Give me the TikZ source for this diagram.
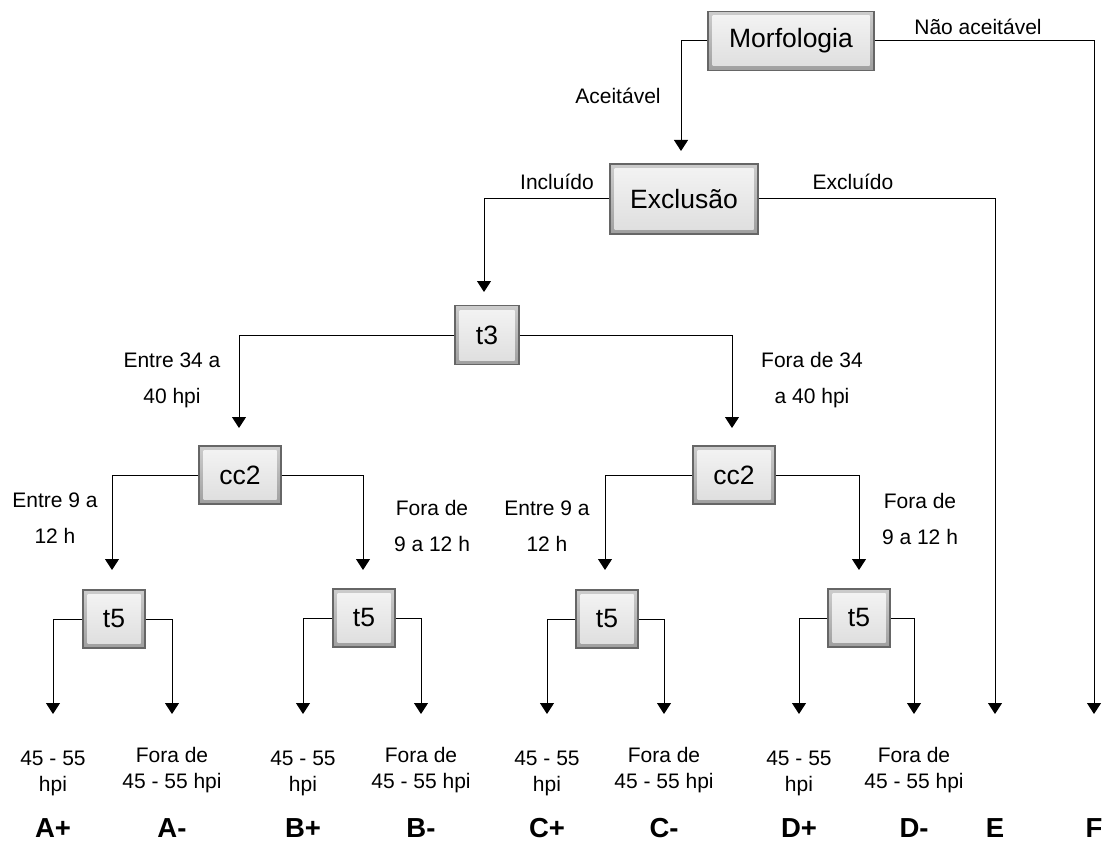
\documentclass[tikz,border=0pt]{standalone}
\usepackage{fontspec}
\setmainfont{Liberation Sans}
\usetikzlibrary{arrows.meta}
\begin{document}
\begin{tikzpicture}[x=1pt,y=-1pt,
gbox/.style={draw=black!60,line width=1.2pt,inner sep=0pt,
  font=\fontsize{26.5}{30}\selectfont,
  path picture={
    \shade[top color=gray!40,bottom color=gray!75]
      (path picture bounding box.south west) rectangle (path picture bounding box.north east);
    \shade[top color=gray!10,bottom color=gray!25]
      ([shift={(4.5pt,4.5pt)}]path picture bounding box.south west) rectangle
      ([shift={(-4.5pt,-4.5pt)}]path picture bounding box.north east);}},
lbl/.style={font=\fontsize{21}{36}\selectfont,align=center,inner sep=0pt},
leaf/.style={font=\fontsize{21}{26}\selectfont,align=center,inner sep=0pt},
grp/.style={font=\bfseries\fontsize{27.5}{30}\selectfont,inner sep=0pt},
arr/.style={line width=1pt,-{Triangle[width=14pt,length=11pt]}}
]
\useasboundingbox (0,0) rectangle (1105,842);

% decision boxes
\node[gbox,minimum width=166pt,minimum height=59pt] (morf) at (791,41) {Morfologia};
\node[gbox,minimum width=148pt,minimum height=70pt] (excl) at (684,199) {Exclusão};
\node[gbox,minimum width=64pt,minimum height=59pt] (t3) at (487,335) {t3};
\node[gbox,minimum width=82pt,minimum height=58pt] (cc2a) at (240,475) {cc2};
\node[gbox,minimum width=82pt,minimum height=58pt] (cc2b) at (734,475) {cc2};
\node[gbox,minimum width=62pt,minimum height=58pt] (t5a) at (114,619) {t5};
\node[gbox,minimum width=62pt,minimum height=58pt] (t5b) at (364,618) {t5};
\node[gbox,minimum width=62pt,minimum height=58pt] (t5c) at (607,619) {t5};
\node[gbox,minimum width=62pt,minimum height=58pt] (t5d) at (859,618) {t5};

% arrow ends
\coordinate (aExcl) at (681,151);
\coordinate (aT3) at (484,292);
\coordinate (aCa) at (239,428);
\coordinate (aCb) at (732,428);
\coordinate (aT5a) at (112,570);
\coordinate (aT5b) at (363,570);
\coordinate (aT5c) at (605,570);
\coordinate (aT5d) at (859,570);
\foreach \x/\nm in {53/ap,172/am,303/bp,421/bm,547/cp,664/cm,799/dp,914/dm,995/e,1094/f}
  \coordinate (a\nm) at (\x,714);

% connectors
\draw[arr] (morf.west) -| (aExcl);
\draw[arr] (morf.east) -| (af);
\draw[arr] (excl.west) -| (aT3);
\draw[arr] (excl.east) -| (ae);
\draw[arr] (t3.west) -| (aCa);
\draw[arr] (t3.east) -| (aCb);
\draw[arr] (cc2a.west) -| (aT5a);
\draw[arr] (cc2a.east) -| (aT5b);
\draw[arr] (cc2b.west) -| (aT5c);
\draw[arr] (cc2b.east) -| (aT5d);
\draw[arr] (t5a.west) -| (aap);
\draw[arr] (t5a.east) -| (aam);
\draw[arr] (t5b.west) -| (abp);
\draw[arr] (t5b.east) -| (abm);
\draw[arr] (t5c.west) -| (acp);
\draw[arr] (t5c.east) -| (acm);
\draw[arr] (t5d.west) -| (adp);
\draw[arr] (t5d.east) -| (adm);

% branch labels
\node[lbl] (lNao) at (978,27) {Não aceitável};
\node[lbl] (lAc) at (618,96) {Aceitável};
\node[lbl] (lInc) at (557,182) {Incluído};
\node[lbl] (lExc) at (853,182) {Excluído};
\node[lbl] (l34a) at (172,380) {Entre 34 a\\40 hpi};
\node[lbl] (l34b) at (812,380) {Fora de 34\\a 40 hpi};
\node[lbl] (l9a) at (55,518) {Entre 9 a\\12 h};
\node[lbl] (l9b) at (432,526) {Fora de\\9 a 12 h};
\node[lbl] (l9c) at (547,526) {Entre 9 a\\12 h};
\node[lbl] (l9d) at (920,519) {Fora de\\9 a 12 h};

% outcomes
\foreach \x/\nm in {53/ap,303/bp,547/cp,799/dp}
  \node[leaf] (h\nm) at (\x,773) {45 - 55\\hpi};
\foreach \x/\nm in {172/am,421/bm,664/cm,914/dm}
  \node[leaf] (h\nm) at (\x,770) {Fora de\\45 - 55 hpi};
\foreach \x/\t/\nm in {53/A+/ap,172/A-/am,303/B+/bp,421/B-/bm,547/C+/cp,664/C-/cm,799/D+/dp,914/D-/dm,995/E/e,1094/F/f}
  \node[grp] (g\nm) at (\x,828) {\t};
\end{tikzpicture}
\end{document}
